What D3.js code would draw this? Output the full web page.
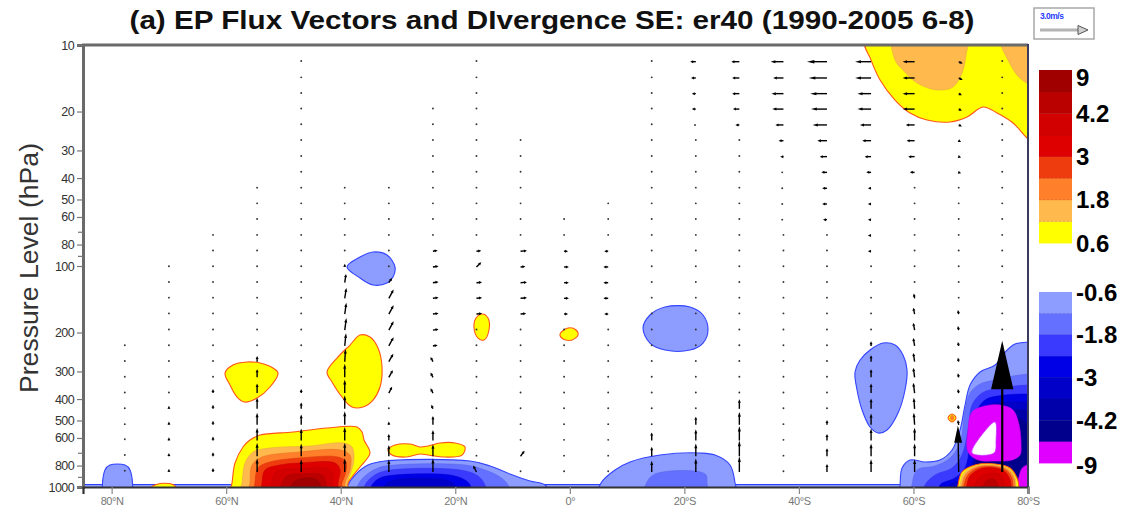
<!DOCTYPE html>
<html>
<head>
<meta charset="utf-8">
<script src="https://cdn.jsdelivr.net/npm/d3@7/dist/d3.min.js"></script>
<style>
  html,body{margin:0;padding:0;background:#fff;}
  svg{display:block;}
  text{font-family:"Liberation Sans",Arial,Helvetica,sans-serif;}
</style>
</head>
<body>
<svg id="chart" width="1125" height="514"></svg>
<script>
// ---------- axes ----------
const latTicks = [80, 60, 40, 20, 0, -20, -40, -60, -80];
const latTickLabels = ["80°N", "60°N", "40°N", "20°N", "0°", "20°S", "40°S", "60°S", "80°S"];
const presTicks = [10, 20, 30, 40, 50, 60, 80, 100, 200, 300, 400, 500, 600, 800, 1000];
const presMinor = [70, 90, 700, 900];

// ---------- divergence shading levels (m/s/day) ----------
const posLevels = [0.6, 1.2, 1.8, 2.4, 3, 3.6, 4.2, 4.8, 9];
const negLevels = [-0.6, -1.2, -1.8, -2.4, -3, -3.6, -4.2, -4.8, -9];
const posColors = ["#ffff00", "#ffb94d", "#ff7f2a", "#ef3c0e", "#de0000", "#d20000", "#bb0000", "#a00000"];
const negColors = ["#8c9cff", "#6470ff", "#3a3aff", "#0000e6", "#0000c8", "#0000aa", "#00008c", "#e000ff"];

// ---------- divergence contours: [level index, ring of [lat, hPa]] ----------
const posStratSH = [
  [0, [[-51.55,9.5],[-52.6,11.7],[-54.17,14.4],[-56.78,17.74],[-59.4,20.31],[-62.37,21.85],[-66.39,22.31],[-69.35,21.18],[-72.15,19.08],[-74.6,20.31],[-77.39,22.54],[-79.84,26.35],[-81.5,28.5],[-81.5,9],[-66,8.5]]],
  [1, [[-56.43,9.3],[-56.78,11.69],[-58.18,13.0],[-60.63,14.86],[-64.12,15.98],[-66.91,15.49],[-68.48,13.39],[-69.18,11.1],[-69.35,9.3],[-63,8.5]]],
  [1, [[-75.1,9.3],[-76.5,11.7],[-78.3,13.9],[-79.84,14.9],[-81.5,15.5],[-81.5,9],[-78,8.5]]]
];
const posLowNH = [
  [0, [[59.33,1100],[58.98,959],[58.46,779],[57.06,659],[55.84,613],[54.09,582],[48.3,564],[42.39,541],[37.16,535],[36.28,564],[35.93,613],[34.89,702],[36.63,812],[38.03,901],[38.73,959],[38.9,1100],[49,1200]]],
  [1, [[57.59,1100],[57.24,959],[56.71,779],[55.32,694],[52.35,666],[45.36,652],[39.6,632],[38.03,659],[37.7,755],[38.38,883],[38.9,959],[39.08,1100],[48,1200]]],
  [2, [[56.2,1100],[55.84,959],[55.49,795],[53.74,732],[47.11,694],[40.12,680],[38.38,717],[38.38,838],[39.25,959],[39.4,1100],[48,1200]]],
  [3, [[55.1,1100],[54.97,959],[54.44,820],[52.35,771],[47.11,739],[40.47,732],[39.08,771],[39.25,883],[39.78,959],[39.9,1100],[47.5,1200]]],
  [4, [[53.9,1100],[53.74,959],[53.22,838],[50.6,795],[47.11,779],[40.99,779],[40.12,838],[40.47,959],[40.6,1100],[47,1200]]],
  [5, [[52.35,1100],[52.0,959],[51.3,855],[47.11,829],[42.2,829],[41.34,892],[41.52,959],[41.7,1100],[47,1200]]],
  [6, [[50.8,1100],[50.25,959],[49.38,892],[46.24,873],[43.27,883],[42.57,959],[42.6,1100],[46.7,1200]]],
  [7, [[48.85,1100],[48.5,969],[47.11,920],[44.5,920],[43.62,969],[43.6,1100],[46.2,1200]]]
];
const posUpper55N = [
  [0, [[60.2,305],[58.81,280.5],[56.36,271.9],[54.09,274.7],[51.82,289.4],[50.95,305],[52.35,352.8],[54.62,395.7],[56.71,412.6],[58.11,391.6],[59.33,345.6]]]
];
const posUpper38N = [
  [0, [[42.39,301.7],[40.65,260.9],[38.38,227.8],[36.63,205.3],[34.89,209.6],[33.49,235.0],[32.79,286.4],[33.14,352.8],[34.36,404],[36.11,434.5],[38.03,434.5],[39.78,391.6],[41.52,334.9]]]
];
const posSubtropNH = [
  [0, [[31.74,680],[30.52,646],[27.9,639],[26.15,659],[24.76,652],[22.66,632],[20.04,632],[18.3,659],[18.82,717],[21.79,732],[24.76,717],[26.15,709],[28.77,732],[31.05,717]]]
];
const posTrop16N = [
  [0, [[16.38,171.9],[15.33,164.9],[14.28,171.9],[14.11,194.8],[14.98,216.1],[16.03,211.8],[16.73,190.8]]]
];
const posEquator = [
  [0, [[1.71,203.1],[0.31,190.8],[-1.09,194.8],[-1.43,205.3],[-0.39,216.1],[1.19,213.9]]]
];
const posSpot67S = [
  [0, [[-66.04,487],[-66.74,467.4],[-67.44,487],[-66.74,507.9]]],
  [2, [[-66.4,487],[-66.74,474],[-67.1,487],[-66.74,500]]]
];
const posPolarSH = [
  [0, [[-67.6,1100],[-67.79,979.5],[-68.48,855.3],[-70.75,795.2],[-74.25,786.8],[-76.87,820.4],[-78.09,910.7],[-78.44,1000],[-78.5,1100],[-73,1200]]],
  [1, [[-67.9,1100],[-68.13,979.5],[-68.83,864.4],[-70.93,803.5],[-74.25,795.2],[-76.69,829],[-77.74,910.7],[-77.91,1000],[-77.95,1100],[-73,1200]]],
  [2, [[-68.3,1100],[-68.48,979.5],[-69.18,873.4],[-71.1,811.9],[-74.25,803.5],[-76.52,837.7],[-77.57,920.2],[-77.74,1000],[-77.8,1100],[-73,1200]]],
  [3, [[-68.7,1100],[-68.83,979.5],[-69.53,882.6],[-71.28,820.4],[-74.25,811.9],[-76.34,846.5],[-77.22,920.2],[-77.39,1000],[-77.45,1100],[-73,1200]]],
  [4, [[-69.2,1100],[-69.35,979.5],[-69.88,891.8],[-71.63,829],[-74.25,820.4],[-76.0,855.3],[-76.87,929.8],[-77.04,1000],[-77.1,1100],[-73,1200]]],
  [5, [[-70.6,1100],[-70.75,1000],[-71.28,920.2],[-73.03,873.4],[-74.77,873.4],[-75.64,920.2],[-75.82,1000],[-75.9,1100],[-73.2,1200]]],
  [6, [[-72.0,1100],[-72.15,1000],[-72.68,939.7],[-73.9,920.2],[-74.6,959.2],[-74.77,1000],[-74.8,1100],[-73.4,1200]]]
];
const posArcticSfc = [
  [0, [[73.0,1000],[72.2,975],[70.7,962],[69.3,975],[68.8,1000]]]
];

const negSurface = [[86,975],[-83,975],[-83,1100],[86,1100]];
const negArctic = [
  [0, [[81.33,1100],[81.16,837.7],[80.29,795.2],[77.67,795.2],[76.79,837.7],[76.62,1100],[79,1200]]]
];
const negNH100 = [
  [0, [[38.9,101.0],[36.63,91.1],[34.36,86.4],[31.92,89.2],[30.52,101.0],[30.87,112.1],[31.92,119.4],[34.36,121.9],[36.63,113.3]]]
];
const negSH200 = [
  [0, [[-12.78,190.8],[-14.0,166.6],[-16.62,153.3],[-20.99,153.3],[-23.26,166.6],[-24.13,194.8],[-23.26,223.1],[-20.99,240.0],[-16.62,240],[-14.0,223.1]]]
];
const negSH55 = [
  [0, [[-49.8,301.7],[-50.68,266.2],[-52.42,240],[-54.69,223.1],[-56.78,227.8],[-58.18,252.7],[-58.88,295.5],[-58.53,364],[-57.31,462.6],[-55.39,552.2],[-53.82,569.8],[-52.42,535.3],[-51.03,448.4],[-50.15,364]]]
];
const negLowNH = [
  [0, [[39.08,1100],[38.73,979.5],[37.51,882.6],[35.24,795.2],[32.27,762.7],[17.42,762.7],[13.93,803.5],[10.44,873.4],[6.95,939.7],[4.33,979.5],[3.5,1100],[21,1200]]],
  [1, [[37.3,1100],[36.98,979.5],[35.76,891.8],[33.49,820.4],[30.52,795.2],[18.3,795.2],[14.81,837.7],[12.19,901.3],[10.79,979.5],[10.44,1100],[24,1200]]],
  [2, [[36.1,1100],[35.76,979.5],[34.54,901.3],[32.27,846.5],[19.17,837.7],[16.03,891.8],[14.81,979.5],[14.6,1100],[25,1200]]],
  [3, [[34.9,1100],[34.54,979.5],[33.14,910.7],[30.52,882.6],[20.92,882.6],[18.3,929.8],[17.42,979.5],[17.25,1100],[26,1200]]],
  [4, [[32.8,1100],[32.27,979.5],[30.52,929.8],[21.79,929.8],[20.04,979.5],[19.9,1100],[26,1200]]]
];
const negLowSHtrop = [
  [0, [[-4.93,1100],[-5.45,959.2],[-7.89,837.7],[-10.51,770.6],[-15.75,716.5],[-22.73,701.7],[-25.35,716.5],[-27.97,795.2],[-28.85,959.2],[-29.0,1100],[-17,1200]]],
  [1, [[-12.96,1100],[-13.31,969.2],[-14.88,873.4],[-23.61,873.4],[-23.96,969.2],[-24.1,1100],[-18.5,1200]]]
];
const negPolarSH = [
  [0, [[-57.5,1100],[-57.66,979.5],[-58.01,820.4],[-59.4,754.7],[-62.02,770.6],[-64.64,754.7],[-66.74,680.2],[-68.13,552.2],[-69.01,425.6],[-69.88,345.6],[-71.63,301.7],[-74.25,280.5],[-76.0,245.1],[-77.74,225.4],[-80.0,220.8],[-82.5,216],[-83,600],[-82.5,1100],[-70,1200]]],
  [1, [[-59.57,1100],[-59.75,979.5],[-60.63,837.7],[-63.77,803.5],[-66.39,739.3],[-68.13,632.4],[-69.01,448.4],[-69.88,375.6],[-71.63,342.0],[-74.25,328],[-77.39,314.6],[-80,308.2],[-82.5,305],[-83,600],[-82.5,1100],[-71,1200]]],
  [2, [[-61.8,1100],[-62.02,979.5],[-63.77,882.6],[-66.74,820.4],[-68.48,716.5],[-69.53,552.2],[-70.23,425.6],[-71.98,375.6],[-75.12,356.5],[-80,345.6],[-82.5,345.6],[-83,700],[-82.5,1100],[-72,1200]]],
  [3, [[-64.5,1100],[-64.64,979.5],[-67.26,910.7],[-69.01,820.4],[-69.88,645.7],[-70.75,472.4],[-72.5,404],[-76.0,383.5],[-80,379.6],[-82.5,379.6],[-83,700],[-82.5,1100],[-73,1200]]],
  [4, [[-66.2,1100],[-66.39,979.5],[-68.48,929.8],[-69.88,837.7],[-70.75,645.7],[-71.28,497.6],[-73.37,425.6],[-76.87,412.6],[-80,412.6],[-82.5,412.6],[-83,700],[-82.5,1100],[-74,1200]]],
  [5, [[-67.6,1100],[-67.79,979.5],[-69.53,910.7],[-70.75,754.7],[-71.63,524.3],[-73.72,457.9],[-76.87,448.4],[-80,448.4],[-82.5,448.4],[-83,750],[-82.5,1100],[-74,1200]]],
  [6, [[-68.3,1100],[-68.48,979.5],[-70.23,882.6],[-71.28,716.5],[-72.15,552.2],[-74.25,487.4],[-77.22,477.3],[-78.96,497.6],[-80,524.3],[-82.5,540],[-83,800],[-82.5,1100],[-75,1200]]],
  [7, [[-69.53,552.2],[-70.23,457.9],[-72.5,430.0],[-75.12,425.6],[-77.39,448.4],[-78.44,524.3],[-78.79,645.7],[-78.61,716.5],[-77.22,754.7],[-74.25,762.7],[-71.28,754.7],[-69.53,694.4]]],
  [7, [[-78.0,1100],[-78.3,929.8],[-79.0,820.4],[-80,795],[-83,790],[-83,1100]]]
];
// unshaded pocket inside the strongest convergence
const polarPocket = [[-70.23,701.7],[-72.33,563.8],[-74.25,507.9],[-74.42,612.9],[-74.07,701.7]];

// ---------- EP flux vectors ----------
const vecLat = [77.7, 70.0, 62.3, 54.6, 46.9, 39.3, 31.6, 23.9, 16.3, 8.6, 1.0, -6.7, -14.3, -22.0, -29.6, -37.3, -44.9, -52.6, -60.2, -67.9, -75.5];
const vecLev = [11.9, 14.1, 16.6, 19.5, 23, 27.1, 32, 37.7, 44.5, 52.4, 61.7, 72.8, 85.7, 101, 119, 140, 165, 195, 230, 271, 319, 376, 443, 523, 616, 726, 855];
const vecTop = [18, 13, 11, 8, 0, 8, 8, 3, 0, 5, 10, 9, 0, 0, 0, 0, 0, 0, 0, 0, 0];
const calmFlux = [0, 0.08];   // near-zero flux (northward, upward)
// [column, level row, northward component, upward component]
const fluxMajor = [
  [0,24,0,0.15],[0,25,0,0.15],[0,26,0,0.15],
  [1,22,0,0.2],[1,23,0,0.2],[1,24,0,0.2],[1,25,0,0.2],[1,26,0,0.2],
  [2,21,0,0.25],[2,22,0,0.25],[2,23,0,0.25],[2,24,0,0.25],[2,25,0,0.25],[2,26,0,0.25],
  [3,19,0,0.35],[3,20,0,0.5],[3,21,0,0.6],[3,22,0,0.7],[3,23,0,0.75],[3,24,0,0.8],[3,25,0,0.85],[3,26,0,0.85],
  [4,21,0,0.25],[4,22,0,0.4],[4,23,0,0.65],[4,24,0,0.75],[4,25,0,0.8],[4,26,0,0.8],
  [5,13,0,0.2],[5,14,-0.08,0.55],[5,15,-0.1,0.65],[5,16,-0.1,0.7],[5,17,-0.1,0.75],[5,18,-0.08,0.8],[5,19,-0.05,0.8],
  [5,20,0,0.85],[5,21,0,0.85],[5,22,0,0.85],[5,23,0,0.85],[5,24,0,0.85],[5,25,0,0.85],[5,26,0,0.85],
  [6,14,-0.2,0.3],[6,15,-0.3,0.55],[6,16,-0.3,0.55],[6,17,-0.3,0.55],[6,18,-0.3,0.55],[6,19,-0.28,0.5],[6,20,-0.25,0.45],[6,21,-0.2,0.4],
  [6,23,0,0.2],[6,24,0,0.4],[6,25,0,0.7],[6,26,0,0.8],
  [7,12,-0.3,0.05],[7,13,-0.35,0.05],[7,14,-0.35,0.05],[7,15,-0.35,0.05],[7,16,-0.35,0.05],[7,17,-0.35,0.05],[7,18,-0.3,0.05],
  [7,19,0.15,0.3],[7,20,0.15,0.3],[7,21,0.15,0.3],[7,22,0.1,0.25],[7,23,0,0.55],[7,24,0,0.65],[7,25,0,0.75],[7,26,0,0.85],
  [8,12,-0.3,0.03],[8,13,-0.3,0.3],[8,14,-0.35,0.03],[8,15,-0.35,0.03],[8,16,-0.35,0.03],[8,26,0.2,0.4],
  [9,12,-0.4,0.03],[9,13,-0.3,0.03],[9,14,-0.4,0.03],[9,15,-0.4,0.03],[9,16,-0.35,0.03],[9,25,-0.25,0.35],
  [10,12,-0.25,0],[10,13,-0.3,0],[10,14,-0.3,0],[10,15,-0.3,0],[10,16,-0.25,0],
  [11,12,0.25,0],[11,13,0.3,0],[11,14,0.3,0],[11,15,0.3,0],[11,16,0.25,0],
  [12,24,0,0.5],[12,25,0,0.6],[12,26,0,0.7],
  [13,0,0.35,0],[13,1,0.3,0],[13,2,0.25,0],[13,3,0.25,0],[13,4,0.1,0],[13,23,0,0.5],[13,24,0,0.7],[13,25,0,0.8],[13,26,0,0.85],
  [14,0,0.5,0],[14,1,0.45,0],[14,2,0.45,0],[14,3,0.4,0],[14,4,0.25,0],[14,22,0,0.6],[14,23,0,0.8],[14,24,0,0.9],[14,25,0,1.0],[14,26,0,1.0],
  [15,0,0.8,0],[15,1,0.65,0],[15,2,0.75,0],[15,3,0.7,0],[15,4,0.5,0],[15,5,0.3,0],[15,6,0.2,0],[15,7,0.15,0],[15,8,0.15,0],[15,9,0.15,0],[15,10,0.15,0],
  [16,0,1.25,0],[16,1,1.15,0],[16,2,1.05,0],[16,3,1.0,0],[16,4,0.9,0],[16,5,0.6,0],[16,6,0.45,0],[16,7,0.35,0],[16,8,0.3,0],[16,9,0.3,0],[16,10,0.25,0],
  [16,23,0,0.3],[16,24,0,0.4],[16,25,0,0.5],[16,26,0,0.5],
  [17,0,1.0,0],[17,1,1.0,0],[17,2,0.85,0],[17,3,0.85,0],[17,4,0.7,0],[17,5,0.55,0],[17,6,0.4,0],[17,7,0.3,0],[17,8,0.2,0],[17,9,0.2,0],[17,10,0.2,0],[17,11,0.2,0],[17,12,0.2,0],
  [17,18,0,0.3],[17,19,0,0.4],[17,20,0,0.5],[17,21,0,0.6],[17,22,0,0.65],[17,23,0,0.7],[17,24,0,0.75],[17,25,0,0.8],[17,26,0,0.8],
  [18,0,0.75,0],[18,1,0.75,0],[18,2,0.75,0],[18,3,0.75,0],[18,4,0.55,0],[18,5,0.5,0],[18,6,0.4,0],[18,7,0.3,0],
  [18,15,0.05,0.3],[18,16,0.08,0.4],[18,17,0.08,0.45],[18,18,0.08,0.5],[18,19,0.08,0.55],[18,20,0.08,0.6],[18,21,0.08,0.65],[18,22,0.05,0.7],[18,23,0.05,0.75],[18,24,0,0.8],[18,25,0,0.8],[18,26,0,0.8],
  [19,0,-0.25,-0.12],[19,1,-0.25,-0.12],[19,2,-0.2,-0.1],[19,3,-0.2,-0.1],[19,4,-0.2,-0.1],[19,5,-0.15,-0.08],[19,6,-0.15,-0.05],[19,7,-0.15,-0.05],
  [19,16,0.05,0.25],[19,17,0.05,0.25],[19,18,0.05,0.25],[19,19,0.05,0.25],[19,20,0.05,0.25],[19,21,0.05,0.25],[19,22,0.05,0.25],[19,23,0.05,0.3],[19,26,0.05,2.9],
  [20,26,0,8.2]
];
const refFlux = 3.0;
const refLabel = "3.0m/s";

// ---------- layout ----------
const svg = d3.select("#chart");
const x = d3.scaleLinear().domain([85, -80]).range([83, 1028]);
const y = d3.scaleLog().domain([10, 1000]).range([45, 487]);
const vecScale = 16; // px per flux unit

svg.append("rect").attr("width", 1125).attr("height", 514).attr("fill", "#fff");
svg.append("defs").append("clipPath").attr("id", "plotClip")
  .append("rect").attr("x", 83).attr("y", 45).attr("width", 945).attr("height", 442);

const plot = svg.append("g").attr("clip-path", "url(#plotClip)");

const smooth = d3.line().x(d => x(d[0])).y(d => y(d[1])).curve(d3.curveCatmullRomClosed.alpha(0.5));
const straight = d3.line().x(d => x(d[0])).y(d => y(d[1])).curve(d3.curveLinearClosed);

function shade(regions, colors, edge) {
  regions.forEach(([lev, ring]) => {
    plot.append("path")
      .attr("d", smooth(ring))
      .attr("fill", colors[lev])
      .attr("stroke", lev === 0 ? edge : d3.color(colors[lev]).darker(0.25))
      .attr("stroke-width", lev === 0 ? 1.1 : 0.6)
      .attr("stroke-linejoin", "round");
  });
}

// convergence (negative) first, near-surface strip underneath everything
plot.append("path").attr("d", straight(negSurface))
  .attr("fill", negColors[0]).attr("stroke", "#3040ff").attr("stroke-width", 1.1);
const negEdge = "#3344ff";
[negArctic, negNH100, negSH200, negSH55, negLowNH, negLowSHtrop, negPolarSH]
  .forEach(r => shade(r, negColors, negEdge));
plot.append("path").attr("d", smooth(polarPocket))
  .attr("fill", "#fff").attr("stroke", "#cc33ff").attr("stroke-width", 0.8);

// divergence (positive)
const posEdge = "#ff5418";
[posStratSH, posLowNH, posUpper55N, posUpper38N, posSubtropNH, posTrop16N, posEquator, posSpot67S, posPolarSH, posArcticSfc]
  .forEach(r => shade(r, posColors, posEdge));

// ---------- vectors ----------
function arrow(g, x0, y0, dx, dy, color) {
  const L = Math.hypot(dx, dy);
  if (L < 2.5) {
    g.append("circle").attr("cx", x0 + dx / 2).attr("cy", y0 + dy / 2).attr("r", 0.95).attr("fill", "#333");
    return;
  }
  const ux = dx / L, uy = dy / L;
  const hl = Math.max(3, 0.37 * L), hw = Math.max(1.5, 0.085 * L);
  const tx = x0 + dx, ty = y0 + dy;
  const bx = tx - ux * hl, by = ty - uy * hl;
  g.append("line").attr("x1", x0).attr("y1", y0).attr("x2", bx + ux * 0.5).attr("y2", by + uy * 0.5)
    .attr("stroke", color).attr("stroke-width", L > 60 ? 2.2 : 1.4).attr("stroke-linecap", "butt");
  g.append("path")
    .attr("d", `M${tx},${ty}L${bx - uy * hw},${by + ux * hw}L${bx + uy * hw},${by - ux * hw}Z`)
    .attr("fill", color);
}

const fluxIndex = new Map(fluxMajor.map(d => [d[0] + "," + d[1], d]));
const vecG = plot.append("g");
vecLat.forEach((lat, c) => {
  for (let r = vecTop[c]; r < vecLev.length; r++) {
    const m = fluxIndex.get(c + "," + r);
    const fphi = m ? m[2] : calmFlux[0];
    const fz = m ? m[3] : calmFlux[1];
    // northward points to the left, upward to the top
    arrow(vecG, x(lat), y(vecLev[r]), -fphi * vecScale, -fz * vecScale, "#000");
  }
});

// ---------- frame and axes ----------
svg.append("line").attr("x1", 82).attr("x2", 1028).attr("y1", 45).attr("y2", 45)
  .attr("stroke", "#6a6a6a").attr("stroke-width", 3);
svg.append("line").attr("x1", 1028).attr("x2", 1028).attr("y1", 44).attr("y2", 488)
  .attr("stroke", "#3b3b5e").attr("stroke-width", 2);

const yAxis = svg.append("g").attr("transform", "translate(83,0)")
  .call(d3.axisLeft(y).tickValues(presTicks).tickFormat(d3.format("d")).tickSize(6).tickPadding(3));
yAxis.select(".domain").attr("stroke", "#6a6a6a").attr("stroke-width", 3);
yAxis.selectAll(".tick line").attr("stroke", "#777").attr("stroke-width", 1.2);
yAxis.selectAll(".tick text").attr("font-size", 12.5).attr("fill", "#333").attr("letter-spacing", "-0.6px");
const yMinor = svg.append("g").attr("transform", "translate(83,0)")
  .call(d3.axisLeft(y).tickValues(presMinor).tickFormat("").tickSize(5));
yMinor.select(".domain").remove();
yMinor.selectAll(".tick line").attr("stroke", "#777").attr("stroke-width", 1.2);

const xAxis = svg.append("g").attr("transform", "translate(0,487)")
  .call(d3.axisBottom(x).tickValues(latTicks).tickFormat((d, i) => latTickLabels[i]).tickSize(7).tickPadding(3));
xAxis.select(".domain").attr("stroke", "#333").attr("stroke-width", 2.2);
xAxis.selectAll(".tick line").attr("stroke", "#888").attr("stroke-width", 1.2);
xAxis.selectAll(".tick text").attr("font-size", 11).attr("fill", "#777").attr("letter-spacing", "-0.4px");

svg.append("text")
  .attr("transform", "translate(38,268) rotate(-90)")
  .attr("text-anchor", "middle")
  .attr("font-size", 25).attr("fill", "#333")
  .attr("textLength", 250).attr("lengthAdjust", "spacingAndGlyphs")
  .text("Pressure Level (hPa)");

svg.append("text")
  .attr("x", 552).attr("y", 29)
  .attr("text-anchor", "middle")
  .attr("font-size", 26).attr("font-weight", "bold").attr("fill", "#111")
  .style("font-family", "'Liberation Sans Narrow','Arial Narrow','Liberation Sans',Arial,sans-serif")
  .attr("textLength", 845).attr("lengthAdjust", "spacingAndGlyphs")
  .text("(a) EP Flux Vectors and DIvergence SE: er40 (1990-2005 6-8)");

// ---------- reference vector ----------
const refG = svg.append("g");
refG.append("rect").attr("x", 1034).attr("y", 8).attr("width", 60).attr("height", 31)
  .attr("fill", "#fff").attr("stroke", "#a8a8a8").attr("stroke-width", 1.5);
refG.append("text").attr("x", 1040).attr("y", 19).attr("font-size", 8.5).attr("font-weight", "bold")
  .attr("fill", "#2a3cff").attr("letter-spacing", "-0.5px").text(refLabel);
const refLen = refFlux * vecScale;
refG.append("line").attr("x1", 1040).attr("x2", 1040 + refLen - 9).attr("y1", 30).attr("y2", 30)
  .attr("stroke", "#b4b4b4").attr("stroke-width", 3);
refG.append("path").attr("d", `M${1040 + refLen},30L${1040 + refLen - 10},25.5L${1040 + refLen - 10},34.5Z`)
  .attr("fill", "#d0d0d0").attr("stroke", "#555").attr("stroke-width", 1);

// ---------- colour bars ----------
function colorBar(top, height, colors, levels, fromBottom) {
  const n = colors.length, h = height / n;
  const g = svg.append("g");
  colors.forEach((c, i) => {
    const yy = fromBottom ? top + height - (i + 1) * h : top + i * h;
    g.append("rect").attr("x", 1039).attr("y", yy).attr("width", 33).attr("height", h + 0.4).attr("fill", c);
    if (i > 0) {
      const yl = fromBottom ? top + height - i * h : top + i * h;
      g.append("line").attr("x1", 1039).attr("x2", 1072).attr("y1", yl).attr("y2", yl)
        .attr("stroke", "rgba(60,60,60,0.25)").attr("stroke-width", 0.6).attr("stroke-dasharray", "2,2");
    }
  });
  levels.forEach((v, i) => {
    if (i % 2) return;
    let yy = fromBottom ? top + height - i * h : top + i * h;
    if (fromBottom && i === n) yy = top + 7;
    if (!fromBottom && i === n) yy = top + height + 2;
    g.append("text").attr("x", 1076).attr("y", yy).attr("dy", "0.36em")
      .attr("font-size", 24).attr("font-weight", "bold").attr("fill", "#000")
      .text(String(v));
  });
}
colorBar(70, 173, posColors, posLevels, true);
colorBar(292, 171, negColors, negLevels, false);
</script>
</body>
</html>
